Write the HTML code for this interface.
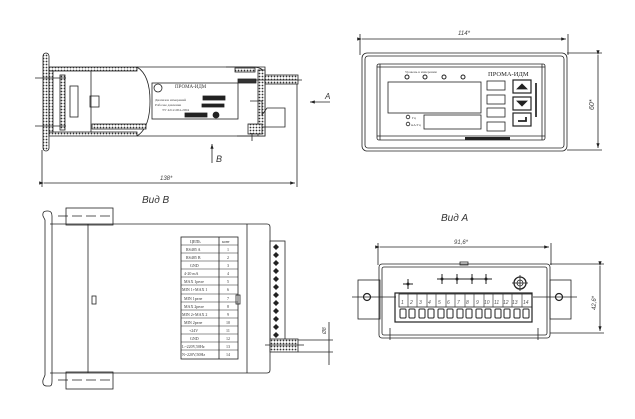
<!DOCTYPE html>
<html><head><meta charset="utf-8"><style>
html,body{margin:0;padding:0;background:#fff;width:635px;height:419px;overflow:hidden}
svg{display:block}
</style></head><body>
<svg width="635" height="419" viewBox="0 0 635 419" xmlns="http://www.w3.org/2000/svg" fill="none" stroke="#222" stroke-width="0.8" font-family="Liberation Sans, DejaVu Sans, sans-serif">
<defs>
<pattern id="h" width="3" height="3" patternUnits="userSpaceOnUse"><rect width="3" height="3" fill="#fff" stroke="none"/><circle cx="1.5" cy="1.5" r="0.9" fill="#333" stroke="none"/></pattern>
<marker id="ar" markerWidth="6" markerHeight="6" refX="6" refY="3" orient="auto"><path d="M0,1 L6,3 L0,5z" fill="#222" stroke="none"/></marker>
</defs>
<g fill="#333" stroke="none">
<!-- text layer handled inline below -->
</g>

<!-- ===== Side view (top-left) ===== -->
<g>
<rect x="43" y="53" width="6" height="98" rx="3" fill="url(#h)"/>
<rect x="49" y="67" width="88" height="4" fill="url(#h)"/>
<rect x="49" y="132" width="88" height="4" fill="url(#h)"/>
<rect x="49" y="71" width="4" height="61" fill="url(#h)"/>
<rect x="60" y="75" width="5" height="55" fill="url(#h)"/>
<line x1="35" y1="78" x2="66" y2="78"/><line x1="35" y1="126" x2="66" y2="126"/>
<rect x="70" y="86" width="8" height="31"/>
<line x1="91" y1="71" x2="91" y2="132"/>
<rect x="90" y="96" width="9" height="11"/>
<path d="M137,67 L228,67 L265,67 L265,136 L137,136"/>
<path d="M137,67 Q150,75 150,101 Q150,128 137,136"/>
<rect x="92" y="124" width="54" height="5" fill="url(#h)"/>
<rect x="152" y="83" width="86" height="36"/>
<circle cx="158" cy="88" r="4"/>
<text x="175" y="88" font-size="5" font-family="Liberation Serif, serif" fill="#333" stroke="none">ПРОМА-ИДМ</text>
<rect x="203" y="96" width="22" height="4" fill="#222"/>
<rect x="202" y="104" width="22" height="3" fill="#222"/>
<rect x="185" y="113" width="22" height="4" fill="#222"/>
<circle cx="216" cy="115" r="3" fill="#222"/>
<g font-size="3.5" font-family="Liberation Serif, serif" fill="#444" stroke="none">
<text x="155" y="101">Диапазон измерений</text>
<text x="155" y="106">Рабочее давление</text>
<text x="162" y="111">ТУ 4212-004-2004</text>
</g>
<path d="M226,67 L252,67 Q265,67 265,76 L265,136 L237,136" fill="none"/>
<rect x="235" y="68" width="20" height="4" fill="url(#h)"/>
<rect x="258" y="70" width="7" height="66" fill="url(#h)"/>
<rect x="248" y="124" width="14" height="10" fill="url(#h)"/>
<rect x="238" y="79" width="18" height="4" fill="#333"/>
<rect x="265" y="75" width="33" height="9" fill="url(#h)"/>
<line x1="255" y1="80" x2="302" y2="80"/>
<path d="M250,101 L262,101 L262,115 L267,108 L285,108 L285,127 L262,127"/>
<line x1="252" y1="133" x2="252" y2="141"/>
<line x1="42" y1="150" x2="42" y2="187"/><line x1="297" y1="84" x2="297" y2="187"/>
<line x1="44" y1="183" x2="295" y2="183" marker-end="url(#ar)" marker-start="url(#ar)"/>
<text x="160" y="180" font-size="6" font-style="italic" fill="#444" stroke="none">138*</text>
<line x1="330" y1="102" x2="310" y2="102" marker-end="url(#ar)"/>
<text x="325" y="99" font-size="8" font-style="italic" fill="#333" stroke="none">A</text>
<line x1="212" y1="163" x2="212" y2="144" marker-end="url(#ar)"/>
<text x="216" y="162" font-size="9" font-style="italic" fill="#333" stroke="none">B</text>
<text x="142" y="203" font-size="10" font-style="italic" fill="#333" stroke="none">Вид В</text>
</g>

<!-- ===== Front view (top-right) ===== -->
<g>
<line x1="360" y1="34" x2="360" y2="55"/><line x1="568" y1="34" x2="568" y2="55"/>
<line x1="362" y1="39" x2="566" y2="39" marker-end="url(#ar)" marker-start="url(#ar)"/>
<text x="458" y="35" font-size="6" font-style="italic" fill="#444" stroke="none">114*</text>
<rect x="362" y="53" width="205" height="98" rx="5"/>
<rect x="365" y="56" width="199" height="92" rx="3"/>
<rect x="377" y="64" width="168" height="76" rx="2"/>
<line x1="380" y1="64" x2="380" y2="140"/><line x1="542" y1="64" x2="542" y2="140"/>
<line x1="377" y1="67" x2="545" y2="67"/><line x1="377" y1="136" x2="545" y2="136"/>
<text x="405" y="73" font-size="3.5" font-family="Liberation Serif, serif" fill="#444" stroke="none">Уровень в измерении</text>
<g stroke-width="1"><circle cx="407" cy="77" r="2"/><circle cx="425" cy="77" r="2"/><circle cx="444" cy="77" r="2"/><circle cx="463" cy="77" r="2"/></g>
<text x="488" y="76" font-size="6.5" font-family="Liberation Serif, serif" fill="#222" stroke="none">ПРОМА-ИДМ</text>
<rect x="388" y="82" width="93" height="31"/>
<rect x="424" y="115" width="57" height="14"/>
<circle cx="408" cy="117" r="1.8"/><circle cx="408" cy="124" r="1.8"/>
<text x="412" y="119" font-size="3.5" font-family="Liberation Serif, serif" fill="#444" stroke="none">Гц</text><text x="411" y="126" font-size="3.5" font-family="Liberation Serif, serif" fill="#444" stroke="none">мА/Гц</text>
<rect x="487" y="81" width="18" height="9"/><rect x="487" y="95" width="18" height="9"/>
<rect x="487" y="108" width="18" height="9"/><rect x="487" y="122" width="18" height="9"/>
<rect x="513" y="80" width="18" height="13" stroke-width="1.2"/>
<rect x="513" y="97" width="18" height="13" stroke-width="1.2"/>
<rect x="513" y="113" width="18" height="13" stroke-width="1.2"/>
<path d="M517,89 L522,84 L527,89z" fill="#222"/>
<path d="M517,101 L527,101 L522,106z" fill="#222"/>
<path d="M518,121 L526,121 L526,117" stroke-width="1.8"/>
<rect x="535" y="83" width="2" height="34" fill="#444" stroke="none"/>
<rect x="465" y="137" width="45" height="3" fill="#222" stroke="none"/>
<line x1="567" y1="53" x2="602" y2="53"/><line x1="567" y1="150" x2="602" y2="150"/>
<line x1="598" y1="55" x2="598" y2="148" marker-end="url(#ar)" marker-start="url(#ar)"/>
<text x="0" y="0" font-size="7" font-style="italic" fill="#444" stroke="none" transform="translate(594,110) rotate(-90)">60*</text>
</g>

<!-- ===== View B (bottom-left) ===== -->
<g>
<path d="M47,211 Q42,211 43,216 L45,220 L45,375 L43,380 Q42,386 47,386 L50,386 Q52,386 52,381 L52,216 Q52,211 48,211z"/>
<rect x="66" y="208" width="47" height="17"/>
<rect x="66" y="372" width="47" height="17"/>
<line x1="58" y1="216" x2="114" y2="216" stroke-dasharray="10,4"/>
<line x1="58" y1="380" x2="114" y2="380" stroke-dasharray="10,4"/>
<path d="M50,224 L267,224 Q270,224 270,227 L270,370 Q270,373 267,373 L50,373"/>
<line x1="88" y1="224" x2="88" y2="373"/>
<line x1="247" y1="224" x2="247" y2="373"/>
<rect x="92" y="296" width="4" height="8"/>
<rect x="236" y="295" width="4" height="9"/>
<rect x="181" y="237" width="57" height="122"/>
<line x1="219" y1="237" x2="219" y2="359"/>
<g stroke-width="0.6">
<line x1="181" y1="245" x2="238" y2="245"/><line x1="181" y1="253" x2="238" y2="253"/><line x1="181" y1="261" x2="238" y2="261"/><line x1="181" y1="269" x2="238" y2="269"/><line x1="181" y1="277" x2="238" y2="277"/><line x1="181" y1="285" x2="238" y2="285"/><line x1="181" y1="294" x2="238" y2="294"/><line x1="181" y1="302" x2="238" y2="302"/><line x1="181" y1="310" x2="238" y2="310"/><line x1="181" y1="318" x2="238" y2="318"/><line x1="181" y1="326" x2="238" y2="326"/><line x1="181" y1="334" x2="238" y2="334"/><line x1="181" y1="342" x2="238" y2="342"/><line x1="181" y1="350" x2="238" y2="350"/>
</g>
<g font-size="4" font-family="Liberation Serif, serif" fill="#333" stroke="none">
<text x="190" y="243">ЦЕПЬ</text><text x="222" y="243">конт</text>
<text x="186" y="251">RS485 A</text><text x="227" y="251">1</text>
<text x="186" y="259">RS485 B</text><text x="227" y="259">2</text>
<text x="190" y="267">GND</text><text x="227" y="267">3</text>
<text x="184" y="275">4-20 mA</text><text x="227" y="275">4</text>
<text x="184" y="283">MAX 1реле</text><text x="227" y="283">5</text>
<text x="182" y="291">MIN 1+MAX 1</text><text x="227" y="291">6</text>
<text x="184" y="300">MIN 1реле</text><text x="227" y="300">7</text>
<text x="184" y="308">MAX 2реле</text><text x="227" y="308">8</text>
<text x="182" y="316">MIN 2+MAX 2</text><text x="227" y="316">9</text>
<text x="184" y="324">MIN 2реле</text><text x="226" y="324">10</text>
<text x="189" y="332">+24V</text><text x="226" y="332">11</text>
<text x="190" y="340">GND</text><text x="226" y="340">12</text>
<text x="182" y="348">L~220V,50Hz</text><text x="226" y="348">13</text>
<text x="182" y="356">N~220V,50Hz</text><text x="226" y="356">14</text>
</g>
<rect x="270" y="241" width="15" height="99"/>
<g fill="#222" stroke="none">
<path d="M276,244 l3,3 l-3,3 l-3,-3z"/><path d="M276,252 l3,3 l-3,3 l-3,-3z"/><path d="M276,260 l3,3 l-3,3 l-3,-3z"/><path d="M276,268 l3,3 l-3,3 l-3,-3z"/><path d="M276,276 l3,3 l-3,3 l-3,-3z"/><path d="M276,284 l3,3 l-3,3 l-3,-3z"/><path d="M276,292 l3,3 l-3,3 l-3,-3z"/><path d="M276,300 l3,3 l-3,3 l-3,-3z"/><path d="M276,308 l3,3 l-3,3 l-3,-3z"/><path d="M276,316 l3,3 l-3,3 l-3,-3z"/><path d="M276,324 l3,3 l-3,3 l-3,-3z"/><path d="M276,332 l3,3 l-3,3 l-3,-3z"/>
</g>
<rect x="270" y="339" width="28" height="13" fill="url(#h)"/>
<line x1="265" y1="345" x2="304" y2="345"/>
<line x1="298" y1="340" x2="333" y2="340"/><line x1="298" y1="352" x2="333" y2="352"/>
<line x1="329" y1="322" x2="329" y2="365"/>
<text x="0" y="0" font-size="5" font-style="italic" fill="#444" stroke="none" transform="translate(326,334) rotate(-90)">Ø8</text>
</g>

<!-- ===== View A (bottom-right) ===== -->
<g>
<text x="441" y="221" font-size="10" font-style="italic" fill="#333" stroke="none">Вид А</text>
<line x1="378" y1="243" x2="378" y2="265"/><line x1="551" y1="243" x2="551" y2="265"/>
<line x1="380" y1="247" x2="549" y2="247" marker-end="url(#ar)" marker-start="url(#ar)"/>
<text x="454" y="244" font-size="6" font-style="italic" fill="#444" stroke="none">91,6*</text>
<rect x="379" y="264" width="171" height="74" rx="3"/>
<rect x="382" y="267" width="165" height="68" rx="2"/>
<rect x="460" y="262" width="8" height="3"/>
<rect x="358" y="280" width="22" height="39"/>
<rect x="550" y="280" width="21" height="39"/>
<line x1="352" y1="297" x2="396" y2="297"/><line x1="533" y1="297" x2="577" y2="297"/>
<circle cx="367" cy="297" r="3.5" stroke-width="1.2"/><circle cx="559" cy="297" r="3.5" stroke-width="1.2"/>
<g stroke-width="1"><line x1="403" y1="284" x2="413" y2="284"/><line x1="408" y1="279" x2="408" y2="289"/>
<line x1="437" y1="279" x2="492" y2="279"/>
<line x1="442" y1="274" x2="442" y2="284"/><line x1="457" y1="274" x2="457" y2="284"/><line x1="472" y1="274" x2="472" y2="284"/><line x1="486" y1="274" x2="486" y2="284"/></g>
<g fill="#222" stroke="none"><circle cx="408" cy="284" r="1.5"/><circle cx="442" cy="279" r="1.5"/><circle cx="457" cy="279" r="1.5"/><circle cx="472" cy="279" r="1.5"/><circle cx="486" cy="279" r="1.5"/></g>
<circle cx="520" cy="283" r="6" stroke-width="1.3"/><circle cx="520" cy="283" r="3"/>
<line x1="512" y1="283" x2="528" y2="283"/><line x1="520" y1="275" x2="520" y2="291"/>
<rect x="395" y="293" width="137" height="29" stroke-width="1.2"/>
<rect x="399" y="294" width="133" height="13"/>
<g font-size="5" font-style="italic" fill="#555" stroke="none">
<text x="401" y="304">1</text><text x="410" y="304">2</text><text x="419" y="304">3</text><text x="428" y="304">4</text><text x="438" y="304">5</text><text x="447" y="304">6</text><text x="457" y="304">7</text><text x="466" y="304">8</text><text x="476" y="304">9</text><text x="484" y="304">10</text><text x="494" y="304">11</text><text x="503" y="304">12</text><text x="512" y="304">13</text><text x="523" y="304">14</text>
</g>
<g stroke-width="0.6"><line x1="408" y1="294" x2="408" y2="307"/><line x1="417" y1="294" x2="417" y2="307"/><line x1="427" y1="294" x2="427" y2="307"/><line x1="436" y1="294" x2="436" y2="307"/><line x1="446" y1="294" x2="446" y2="307"/><line x1="455" y1="294" x2="455" y2="307"/><line x1="465" y1="294" x2="465" y2="307"/><line x1="474" y1="294" x2="474" y2="307"/><line x1="484" y1="294" x2="484" y2="307"/><line x1="493" y1="294" x2="493" y2="307"/><line x1="503" y1="294" x2="503" y2="307"/><line x1="512" y1="294" x2="512" y2="307"/><line x1="522" y1="294" x2="522" y2="307"/></g>
<g stroke-width="1"><rect x="400" y="309" width="6" height="9" rx="1"/><rect x="409" y="309" width="6" height="9" rx="1"/><rect x="419" y="309" width="6" height="9" rx="1"/><rect x="428" y="309" width="6" height="9" rx="1"/><rect x="438" y="309" width="6" height="9" rx="1"/><rect x="447" y="309" width="6" height="9" rx="1"/><rect x="457" y="309" width="6" height="9" rx="1"/><rect x="466" y="309" width="6" height="9" rx="1"/><rect x="476" y="309" width="6" height="9" rx="1"/><rect x="485" y="309" width="6" height="9" rx="1"/><rect x="495" y="309" width="6" height="9" rx="1"/><rect x="504" y="309" width="6" height="9" rx="1"/><rect x="514" y="309" width="6" height="9" rx="1"/><rect x="523" y="309" width="6" height="9" rx="1"/></g>
<line x1="390" y1="328" x2="390" y2="340"/><line x1="538" y1="328" x2="538" y2="340"/>
<line x1="550" y1="264" x2="604" y2="264"/><line x1="550" y1="333" x2="604" y2="333"/>
<line x1="600" y1="266" x2="600" y2="331" marker-end="url(#ar)" marker-start="url(#ar)"/>
<text x="0" y="0" font-size="6" font-style="italic" fill="#444" stroke="none" transform="translate(596,310) rotate(-90)">42,6*</text>
</g>
</svg>
</body></html>
